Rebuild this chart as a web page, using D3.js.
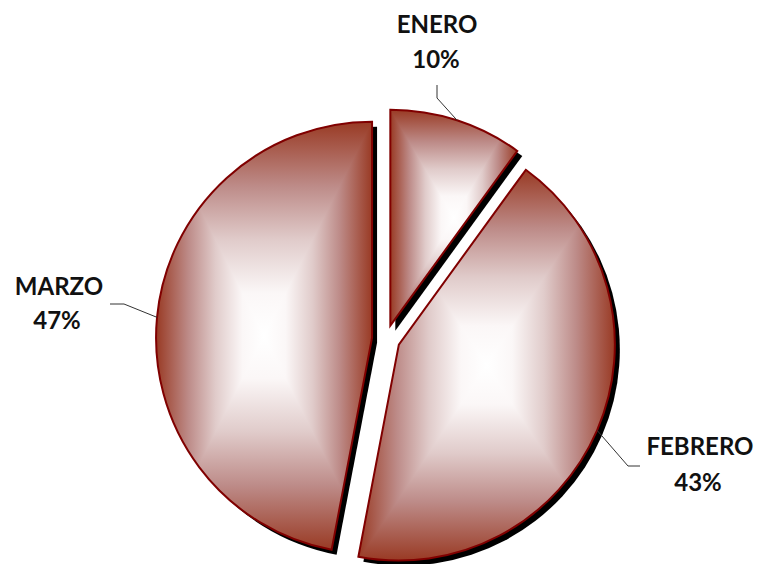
<!DOCTYPE html>
<html>
<head>
<meta charset="utf-8">
<script src="https://cdn.jsdelivr.net/npm/d3@7/dist/d3.min.js"></script>
<style>
  body { margin: 0; background: #fff; }
  text { font-family: Lato, "Open Sans", sans-serif; font-weight: 700; fill: #111; }
</style>
</head>
<body>
<script>
// data
const categories = ['ENERO', 'FEBRERO', 'MARZO'];
const values = [10, 43, 47];
const pctLabels = ['10%', '43%', '47%'];

// label layout (name pos, pct pos, leader elbow, leader end)
const labelLayout = [
  { name: [437, 33], pct: [436, 68], elbow: [437, 98], end: [437, 85] },
  { name: [700, 455], pct: [698, 491], elbow: [628, 466], end: [640, 466] },
  { name: [59, 295], pct: [57, 329], elbow: [124, 304], end: [110, 304] }
];

const W = 758, H = 564;
const cx = 386, cy = 339, R = 216, explode = 14;

const svg = d3.select('body').append('svg').attr('width', W).attr('height', H);
const defs = svg.append('defs');

const pie = d3.pie().sort(null).value(d => d)(values);
const arc = d3.arc().innerRadius(0).outerRadius(R);

pie.forEach((d, i) => {
  const mid = (d.startAngle + d.endAngle) / 2;
  d.mid = mid;
  d.tx = cx + explode * Math.sin(mid);
  d.ty = cy - explode * Math.cos(mid);
  d.i = i;
});

// shadows first
svg.append('g').selectAll('path')
  .data(pie)
  .join('path')
  .attr('transform', d => `translate(${d.tx + 5},${d.ty + 5})`)
  .attr('d', arc)
  .attr('fill', '#000');

const stops = [
  [0, '#ffffff'], [0.2, '#fbf7f7'], [0.45, '#e0cbca'], [0.7, '#bd8b88'], [1, '#993a24']
];

const slices = svg.append('g').selectAll('g')
  .data(pie)
  .join('g');

slices.each(function(d) {
  const g = d3.select(this);
  const path = arc(d);
  const tmp = g.append('path').attr('d', path).attr('fill', 'none');
  const bb = tmp.node().getBBox();
  tmp.remove();
  // box in page coords
  const x0 = bb.x + d.tx, x1 = x0 + bb.width, y0 = bb.y + d.ty, y1 = y0 + bb.height;
  const mx = (x0 + x1) / 2, my = (y0 + y1) / 2;

  defs.append('clipPath').attr('id', 'clip' + d.i)
    .append('path').attr('d', path).attr('transform', `translate(${d.tx},${d.ty})`);

  const grad = (k, tx, ty) => {
    const id = `grad${d.i}_${k}`;
    const lg = defs.append('linearGradient').attr('id', id)
      .attr('gradientUnits', 'userSpaceOnUse')
      .attr('x1', mx).attr('y1', my).attr('x2', tx).attr('y2', ty);
    stops.forEach(s => lg.append('stop').attr('offset', s[0]).attr('stop-color', s[1]));
    return `url(#${id})`;
  };

  const cg = g.append('g').attr('clip-path', `url(#clip${d.i})`);
  // top and bottom halves as rects, left/right triangles on top (hides seams)
  cg.append('rect').attr('x', x0).attr('y', y0).attr('width', x1 - x0).attr('height', my - y0 + 1)
    .attr('fill', grad(0, mx, y0));
  cg.append('rect').attr('x', x0).attr('y', my).attr('width', x1 - x0).attr('height', y1 - my)
    .attr('fill', grad(2, mx, y1));
  cg.append('path').attr('d', `M${x1},${y0}L${x1},${y1}L${mx},${my}Z`).attr('fill', grad(1, x1, my));
  cg.append('path').attr('d', `M${x0},${y0}L${x0},${y1}L${mx},${my}Z`).attr('fill', grad(3, x0, my));

  g.append('path').attr('d', path)
    .attr('transform', `translate(${d.tx},${d.ty})`)
    .attr('fill', 'none')
    .attr('stroke', '#800000')
    .attr('stroke-width', 2)
    .attr('stroke-linejoin', 'miter');
});

// leader lines and labels
const labels = svg.append('g');
pie.forEach((d, i) => {
  const L = labelLayout[i];
  const ax = d.tx + R * Math.sin(d.mid), ay = d.ty - R * Math.cos(d.mid);
  labels.append('path')
    .attr('d', d3.line()([[ax, ay], L.elbow, L.end]))
    .attr('fill', 'none')
    .attr('stroke', '#333')
    .attr('stroke-width', 1);
  labels.append('text').attr('x', L.name[0]).attr('y', L.name[1])
    .attr('text-anchor', 'middle').attr('font-size', 24).text(categories[i]);
  labels.append('text').attr('x', L.pct[0]).attr('y', L.pct[1])
    .attr('text-anchor', 'middle').attr('font-size', 24).text(pctLabels[i]);
});
</script>
</body>
</html>
